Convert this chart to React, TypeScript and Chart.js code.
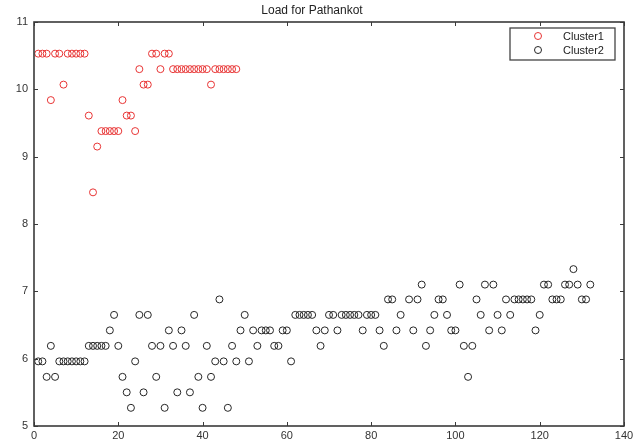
import React, { useEffect, useRef } from "react";
import { Chart, registerables } from "chart.js";

Chart.register(...registerables);

const TITLE = "Load for Pathankot";
const SERIES_LABELS = ["Cluster1", "Cluster2"];
const SERIES_COLORS = ["rgb(232,52,52)", "#262626"];
const X_TICKS = [0, 20, 40, 60, 80, 100, 120, 140];
const Y_TICKS = [5, 6, 7, 8, 9, 10, 11];

const cluster1X = [
  1, 2, 3, 4, 5, 6, 7, 8, 9, 10, 11, 12, 13, 14, 15, 16, 17, 18, 19, 20, 21, 22, 23, 24,
  25, 26, 27, 28, 29, 30, 31, 32, 33, 34, 35, 36, 37, 38, 39, 40, 41, 42, 43, 44, 45, 46, 47, 48,
];
const cluster1Y = [
  10.53, 10.53, 10.53, 9.84, 10.53, 10.53, 10.07, 10.53, 10.53, 10.53, 10.53, 10.53,
  9.61, 8.47, 9.15, 9.38, 9.38, 9.38, 9.38, 9.38, 9.84, 9.61, 9.61, 9.38,
  10.3, 10.07, 10.07, 10.53, 10.53, 10.3, 10.53, 10.53, 10.3, 10.3, 10.3, 10.3,
  10.3, 10.3, 10.3, 10.3, 10.3, 10.07, 10.3, 10.3, 10.3, 10.3, 10.3, 10.3,
];

const cluster2X = [
  1, 2, 3, 4, 5, 6, 7, 8, 9, 10, 11, 12, 13, 14, 15, 16, 17, 18, 19, 20,
  21, 22, 23, 24, 25, 26, 27, 28, 29, 30, 31, 32, 33, 34, 35, 36, 37, 38, 39, 40,
  41, 42, 43, 44, 45, 46, 47, 48, 49, 50, 51, 52, 53, 54, 55, 56, 57, 58, 59, 60,
  61, 62, 63, 64, 65, 66, 67, 68, 69, 70, 71, 72, 73, 74, 75, 76, 77, 78, 79, 80,
  81, 82, 83, 84, 85, 86, 87, 89, 90, 91, 92, 93, 94, 95, 96, 97, 98, 99, 100,
  101, 102, 103, 104, 105, 106, 107, 108, 109, 110, 111, 112, 113, 114, 115, 116, 117, 118, 119, 120,
  121, 122, 123, 124, 125, 126, 127, 128, 129, 130, 131, 132,
];
const cluster2Y = [
  5.96, 5.96, 5.73, 6.19, 5.73, 5.96, 5.96, 5.96, 5.96, 5.96, 5.96, 5.96, 6.19, 6.19, 6.19, 6.19, 6.19, 6.42, 6.65, 6.19,
  5.73, 5.5, 5.27, 5.96, 6.65, 5.5, 6.65, 6.19, 5.73, 6.19, 5.27, 6.42, 6.19, 5.5, 6.42, 6.19, 5.5, 6.65, 5.73, 5.27,
  6.19, 5.73, 5.96, 6.88, 5.96, 5.27, 6.19, 5.96, 6.42, 6.65, 5.96, 6.42, 6.19, 6.42, 6.42, 6.42, 6.19, 6.19, 6.42, 6.42,
  5.96, 6.65, 6.65, 6.65, 6.65, 6.65, 6.42, 6.19, 6.42, 6.65, 6.65, 6.42, 6.65, 6.65, 6.65, 6.65, 6.65, 6.42, 6.65, 6.65,
  6.65, 6.42, 6.19, 6.88, 6.88, 6.42, 6.65, 6.88, 6.42, 6.88, 7.1, 6.19, 6.42, 6.65, 6.88, 6.88, 6.65, 6.42, 6.42,
  7.1, 6.19, 5.73, 6.19, 6.88, 6.65, 7.1, 6.42, 7.1, 6.65, 6.42, 6.88, 6.65, 6.88, 6.88, 6.88, 6.88, 6.88, 6.42, 6.65,
  7.1, 7.1, 6.88, 6.88, 6.88, 7.1, 7.1, 7.33, 7.1, 6.88, 6.88, 7.1,
];

const FONT = "'Liberation Sans', Arial, Helvetica, sans-serif";

const matlabFrame = {
  id: "matlabFrame",
  afterDraw(chart: any) {
    const { ctx, chartArea: a, scales } = chart;
    ctx.save();
    // inward tick marks
    const L = 4;
    ctx.strokeStyle = "#3a3a3a";
    ctx.lineWidth = 1;
    ctx.beginPath();
    scales.x.ticks.forEach((t: any) => {
      const px = Math.round(scales.x.getPixelForValue(t.value)) + 0.5;
      ctx.moveTo(px, a.bottom);
      ctx.lineTo(px, a.bottom - L);
      ctx.moveTo(px, a.top);
      ctx.lineTo(px, a.top + L);
    });
    scales.y.ticks.forEach((t: any) => {
      const py = Math.round(scales.y.getPixelForValue(t.value)) + 0.5;
      ctx.moveTo(a.left, py);
      ctx.lineTo(a.left + L, py);
      ctx.moveTo(a.right, py);
      ctx.lineTo(a.right - L, py);
    });
    ctx.stroke();
    // box
    ctx.lineWidth = 1.6;
    ctx.strokeStyle = "#3a3a3a";
    ctx.strokeRect(a.left, a.top, a.right - a.left, a.bottom - a.top);

    // legend
    const bw = 105;
    const bh = 32;
    const bx = a.right - 9 - bw;
    const by = a.top + 6;
    ctx.fillStyle = "#ffffff";
    ctx.fillRect(bx, by, bw, bh);
    ctx.lineWidth = 1.3;
    ctx.strokeStyle = "#444";
    ctx.strokeRect(bx, by, bw, bh);
    chart.data.datasets.forEach((ds: any, i: number) => {
      const cy = by + 8 + i * 14;
      ctx.beginPath();
      ctx.lineWidth = 1;
      ctx.strokeStyle = ds.borderColor;
      ctx.arc(bx + 28, cy, 3.5, 0, Math.PI * 2);
      ctx.stroke();
      ctx.fillStyle = "#222";
      ctx.font = `11px ${FONT}`;
      ctx.textAlign = "left";
      ctx.textBaseline = "middle";
      ctx.fillText(ds.label, bx + 53, cy + 0.5);
    });
    ctx.restore();
  },
};

export default function App() {
  const ref = useRef<HTMLCanvasElement | null>(null);

  useEffect(() => {
    if (!ref.current) return;
    const datasets = [
      {
        label: SERIES_LABELS[0],
        data: cluster1X.map((x, i) => ({ x, y: cluster1Y[i] })),
        borderColor: SERIES_COLORS[0],
        backgroundColor: "rgba(0,0,0,0)",
        pointRadius: 3.5,
        pointBorderWidth: 1,
        pointStyle: "circle",
      },
      {
        label: SERIES_LABELS[1],
        data: cluster2X.map((x, i) => ({ x, y: cluster2Y[i] })),
        borderColor: SERIES_COLORS[1],
        backgroundColor: "rgba(0,0,0,0)",
        pointRadius: 3.5,
        pointBorderWidth: 1,
        pointStyle: "circle",
      },
    ];
    const chart = new Chart(ref.current, {
      type: "scatter",
      data: { datasets },
      plugins: [matlabFrame],
      options: {
        responsive: false,
        animation: false,
        devicePixelRatio: 1,
        layout: { padding: { left: 0, right: 17, top: 0, bottom: 0 } },
        plugins: {
          legend: { display: false },
          tooltip: { enabled: false },
          title: {
            display: true,
            text: TITLE,
            color: "#222",
            font: { family: FONT, size: 12, weight: "normal" },
            padding: { top: 3, bottom: 4.6 },
          },
        },
        scales: {
          x: {
            type: "linear",
            min: X_TICKS[0],
            max: X_TICKS[X_TICKS.length - 1],
            afterBuildTicks: (s: any) => {
              s.ticks = X_TICKS.map((v) => ({ value: v }));
            },
            afterFit: (s: any) => {
              s.height = 21;
            },
            grid: { display: false, drawTicks: false, tickLength: 0 },
            border: { display: false },
            ticks: {
              color: "#333",
              font: { family: FONT, size: 11 },
              padding: 3,
              maxRotation: 0,
              autoSkip: false,
            },
          },
          y: {
            type: "linear",
            min: Y_TICKS[0],
            max: Y_TICKS[Y_TICKS.length - 1],
            afterBuildTicks: (s: any) => {
              s.ticks = Y_TICKS.map((v) => ({ value: v }));
            },
            afterFit: (s: any) => {
              s.width = 34;
            },
            grid: { display: false, drawTicks: false, tickLength: 0 },
            border: { display: false },
            ticks: {
              color: "#333",
              font: { family: FONT, size: 11 },
              padding: 6,
              autoSkip: false,
            },
          },
        },
      },
    } as any);
    return () => chart.destroy();
  }, []);

  return (
    <div style={{ position: "fixed", left: 0, top: 0, width: 641, height: 447, background: "#fff" }}>
      <canvas ref={ref} width={641} height={447} style={{ display: "block" }} />
    </div>
  );
}
